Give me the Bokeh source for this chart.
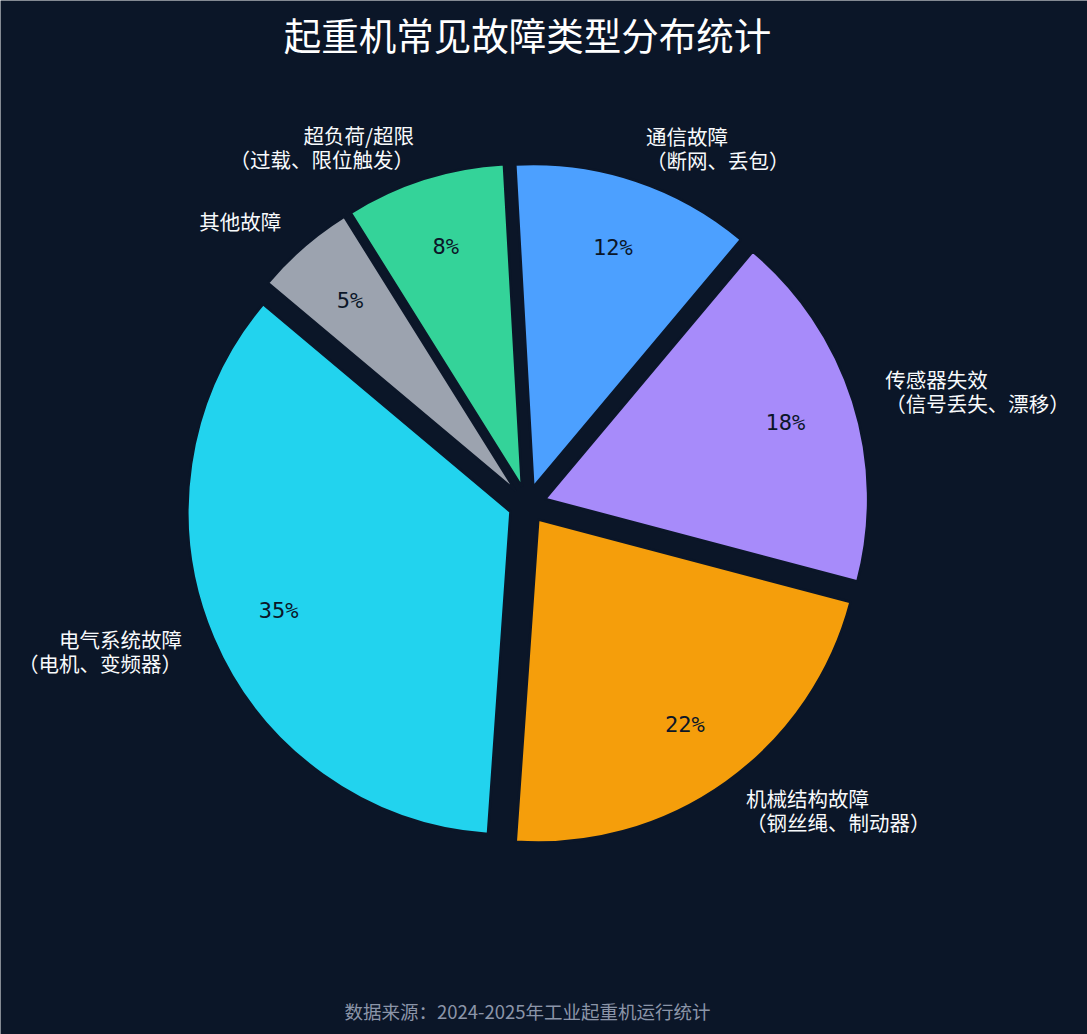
import math
from bokeh.plotting import figure
from bokeh.models import Range1d, ColumnDataSource
from bokeh.core.properties import value
from bokeh.embed import file_html
from bokeh.resources import INLINE

# ---- data ----
names = ["电气系统故障", "机械结构故障", "传感器失效", "通信故障", "超负荷/超限", "其他故障"]
details = ["（电机、变频器）", "（钢丝绳、制动器）", "（信号丢失、漂移）", "（断网、丢包）", "（过载、限位触发）", ""]
shares = [35, 22, 18, 12, 8, 5]
colors = ["#22d3ee", "#f59e0b", "#a78bfa", "#4ca0ff", "#34d399", "#9ca3af"]
title_text = "起重机常见故障类型分布统计"
footer_text = "数据来源：2024-2025年工业起重机运行统计"

# ---- layout ----
W, H = 1087, 1034
BG = "#0b1628"
CX, CY = 527, 504          # pie centre in page pixels (from top-left)
R = 323                    # radius in pixels
EXPLODE = 18.5             # offset of each slice
START = 140.0              # start angle in degrees
LABEL_D = 1.105
PCT_D = 0.78

total = float(sum(shares))
starts, ends, xs, ys, lx, ly, px, py, aligns, labels, pcts = [], [], [], [], [], [], [], [], [], [], []
a = START
for n, d, s in zip(names, details, shares):
    sweep = 360.0 * s / total
    a0, a1 = a, a + sweep
    mid = math.radians((a0 + a1) / 2)
    ox, oy = EXPLODE * math.cos(mid), EXPLODE * math.sin(mid)
    starts.append(math.radians(a0)); ends.append(math.radians(a1))
    xs.append(ox); ys.append(oy)
    lx.append(ox + LABEL_D * R * math.cos(mid)); ly.append(oy + LABEL_D * R * math.sin(mid))
    px.append(ox + PCT_D * R * math.cos(mid)); py.append(oy + PCT_D * R * math.sin(mid))
    aligns.append("left" if math.cos(mid) > 0 else "right")
    labels.append(n + ("\n" + d if d else ""))
    pcts.append(f"{s}%")
    a = a1

src = ColumnDataSource(dict(x=xs, y=ys, start=starts, end=ends, color=colors,
                            lx=lx, ly=ly, px=px, py=py, align=aligns,
                            label=labels, pct=pcts))

p = figure(width=W, height=H, output_backend="svg", toolbar_location=None,
           x_range=Range1d(-CX, W - CX), y_range=Range1d(-(H - CY), CY),
           x_axis_type=None, y_axis_type=None, min_border=0,
           background_fill_color=BG, border_fill_color=BG, outline_line_color=None)
p.grid.visible = False

p.wedge(x="x", y="y", radius=R, start_angle="start", end_angle="end",
        fill_color="color", line_color=BG, line_width=2.5, source=src)

cjk = value("Noto Sans CJK SC")
p.text(x="lx", y="ly", text="label", text_align="align", text_baseline="middle",
       text_font=cjk, text_font_size="20.5px", text_color="#f8fafc",
       text_line_height=0.81, source=src)
p.text(x="px", y="py", text="pct", text_align="center", text_baseline="middle",
       text_font=value("DejaVu Sans Mono"),
       text_font_size="22px", text_color="#0b1628", source=src)

p.text(x=[0], y=[CY - 33], text=[title_text], text_align="center", text_baseline="middle",
       text_font=cjk, text_font_size="37.5px", text_color="#ffffff")
p.text(x=[0], y=[CY - 1010], text=[footer_text], text_align="center", text_baseline="middle",
       text_font=cjk, text_font_size="18.5px", text_color="#8b95a8")

open("out.html", "w").write(file_html(p, INLINE))
